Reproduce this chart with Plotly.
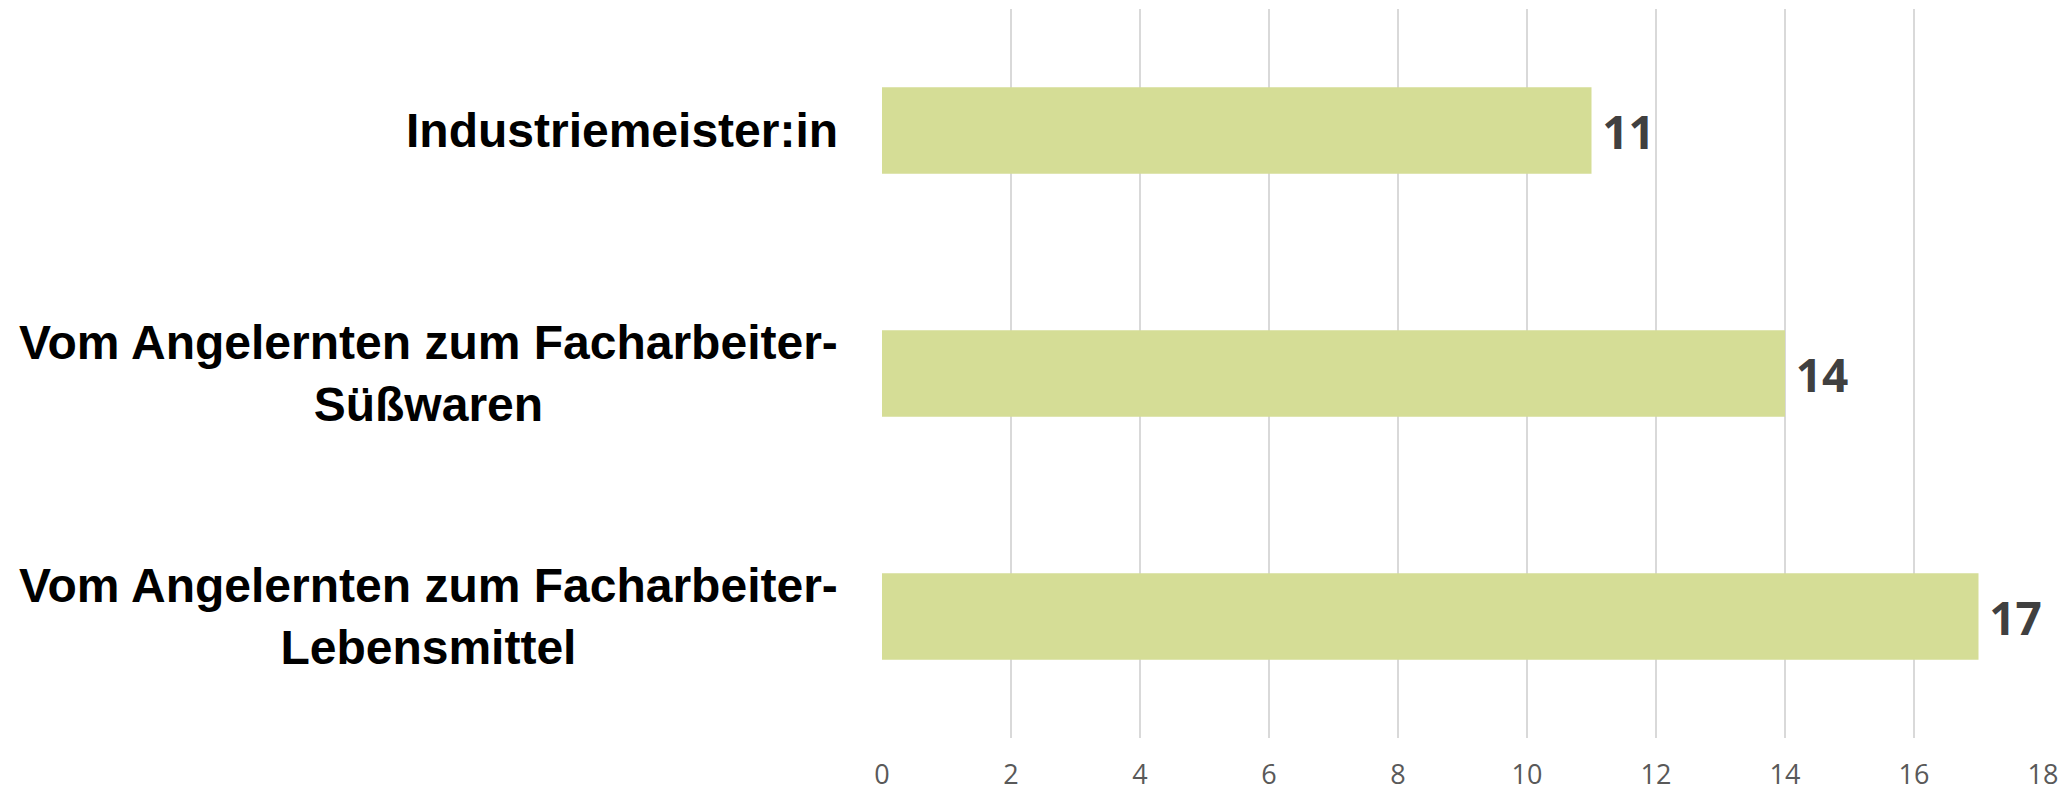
import plotly.graph_objects as go

categories = ["Industriemeister:in",
              "Vom Angelernten zum Facharbeiter-<br>Süßwaren",
              "Vom Angelernten zum Facharbeiter-<br>Lebensmittel"]
values = [11, 14, 17]
x_ticks = [0, 2, 4, 6, 8, 10, 12, 14, 16, 18]

fig = go.Figure()
fig.add_trace(go.Bar(
    y=categories, x=values, orientation="h",
    marker=dict(color="#D5DD96", line=dict(width=0)),
    text=values, texttemplate="\u2009%{x}", textposition="outside",
    textfont=dict(family="Open Sans", size=46, color="#404040", weight="bold"),
    cliponaxis=False, constraintext="none",
))

fig.update_layout(
    width=2067, height=792,
    margin=dict(l=882, r=24, t=9, b=54),
    paper_bgcolor="white", plot_bgcolor="white",
    bargap=0.645, showlegend=False,
)
fig.update_xaxes(
    range=[0, 18], tickvals=x_ticks, showgrid=True, gridcolor="#D9D9D9", gridwidth=1.5,
    zeroline=False, showline=False, automargin=False,
    ticks="outside", ticklen=13, tickcolor="rgba(0,0,0,0)",
    tickfont=dict(family="Open Sans", size=27, color="#595959"),
)
fig.update_yaxes(
    autorange="reversed", showgrid=False, zeroline=False, showline=False,
    showticklabels=False, automargin=False,
)
for c in categories:
    fig.add_annotation(
        x=0, xref="paper", y=c, yref="y", xanchor="right", yanchor="middle",
        xshift=-42, text="<b>" + c + "</b>", showarrow=False, align="center",
        font=dict(family="Liberation Sans", size=48, color="black"),
    )

fig.write_html("out.html", config={"displayModeBar": False},
               post_script="document.body.style.margin='0';document.body.style.overflow='hidden';")
